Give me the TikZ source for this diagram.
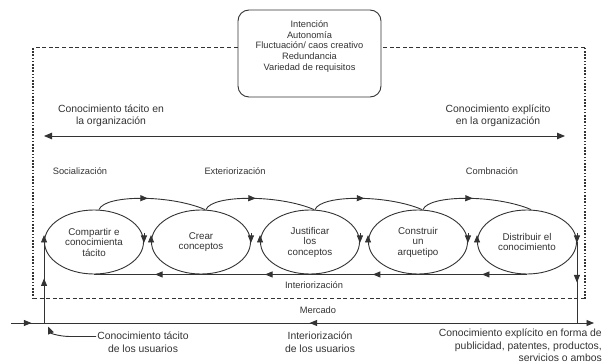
\documentclass[tikz,border=0pt]{standalone}
\usepackage{fontspec}
\setmainfont{Liberation Sans}
\usetikzlibrary{shapes.geometric,arrows.meta,decorations.markings}
\definecolor{ink}{HTML}{333333}
\begin{document}
\begin{tikzpicture}[x=1pt,y=-1pt,
  lbl/.style={font=\fontsize{9.3}{10.75}\selectfont, text=ink, align=center, inner sep=0pt},
  biglbl/.style={font=\fontsize{10.4}{12.5}\selectfont, text=ink, align=center, inner sep=0pt},
  proc/.style={ellipse, draw=ink, line width=0.9pt, minimum width=99pt, minimum height=64pt,
    inner sep=0pt, font=\fontsize{9.8}{10.5}\selectfont, text=ink, align=center},
  flow/.style={draw=ink, line width=0.9pt},
  tip/.style={-{Triangle[length=7.5pt,width=6pt]}},
  midarrow/.style={postaction={decorate,decoration={markings,
    mark=at position #1 with {\arrow{Triangle[length=7.5pt,width=6pt]}}}}},
  frameh/.style={draw=ink, line width=1pt, dash pattern=on 4pt off 2.6pt},
  framev/.style={draw=ink, line width=1.2pt, dash pattern=on 1.6pt off 1.6pt}]

\fill[white] (0,0) rectangle (605,363);
\useasboundingbox (0,0) rectangle (605,363);

% enabling conditions
\node[draw=ink, line width=0.9pt, rounded corners=11pt, minimum width=143pt,
  minimum height=87pt, inner sep=0pt] (facbox) at (309.5,53.5) {};
\node[lbl] (factxt) at (309.5,46.5)
  {Intención\\Autonomía\\Fluctuación/ caos creativo\\Redundancia\\Variedad de requisitos};

% organisation frame
\coordinate (fTL) at (33,48);
\coordinate (fBL) at (33,299);
\coordinate (fBR) at (585,299);
\coordinate (fTR) at (585,48);
\draw[frameh] (facbox.west |- fTL) -- (fTL);
\draw[framev] (fTL) -- (fBL);
\draw[frameh] (fBL) -- (fBR);
\draw[framev] (fBR) -- (fTR);
\draw[frameh] (fTR) -- (facbox.east |- fTR);

% tacit / explicit axis
\node[biglbl] (torg) at (111,116) {Conocimiento tácito en\\la organización};
\node[biglbl] (eorg) at (498,116) {Conocimiento explícito\\en la organización};
\coordinate (oL) at (44,136);
\coordinate (oR) at (565,136);
\draw[flow, {Triangle[length=8pt,width=6.5pt]}-{Triangle[length=8pt,width=6.5pt]}] (oL) -- (oR);

% phases
\node[lbl] (soc) at (80,171) {Socialización};
\node[lbl] (ext) at (235,171) {Exteriorización};
\node[lbl] (comb) at (492,171) {Combnación};

% process steps
\node[proc] (e1) at (94,242) {Compartir e\\conocimienta\\tácito};
\node[proc] (e2) at (201,242) {Crear\\conceptos};
\node[proc] (e3) at (310,242) {Justificar\\los\\conceptos};
\node[proc] (e4) at (418,242) {Construir\\un\\arquetipo};
\node[proc] (e5) at (527,242) {Distribuir el\\conocimiento};

% forward arcs between steps
\foreach \a/\b in {e1/e2,e2/e3,e3/e4,e4/e5}
  \draw[flow, midarrow=0.47] ([xshift=5pt]\a.north) .. controls +(6,-15) and +(-35,-15) .. ([xshift=4pt]\b.north);

% clockwise cues on each step
\foreach \e in {e1,e2,e3,e4,e5} {
  \draw[flow, tip] ([yshift=-3pt]\e.west) -- ([yshift=7pt]\e.west);
  \draw[flow, tip] ([yshift=9pt]\e.east) -- ([yshift=-1pt]\e.east);
}

% interiorisation return line
\draw[flow, postaction={decorate,decoration={markings,
    mark=at position 0.104 with {\arrow{Triangle[length=7.5pt,width=6pt]}},
    mark=at position 0.356 with {\arrow{Triangle[length=7.5pt,width=6pt]}},
    mark=at position 0.605 with {\arrow{Triangle[length=7.5pt,width=6pt]}},
    mark=at position 0.859 with {\arrow{Triangle[length=7.5pt,width=6pt]}}}}]
  (e5.south) -- (e1.south);
\node[lbl] (intr) at (314,285) {Interiorización};

% market line
\coordinate (mL) at (11,323);
\coordinate (mR) at (594,323);
\draw[flow, tip, postaction={decorate,decoration={markings,
    mark=at position 0.035 with {\arrow{Triangle[length=7.5pt,width=6pt]}},
    mark=at position 0.525 with {\arrow{Triangle[reversed,length=7.5pt,width=6pt]}}}}]
  (mL) -- (mR);
\draw[flow, midarrow=0.55] (e1.west |- mL) -- (e1.west);
\draw[flow, midarrow=0.5] (e5.east) -- (e5.east |- mR);
\node[lbl] (merc) at (318,310) {Mercado};

% market labels
\node[biglbl] (tus) at (143,342) {Conocimiento tácito\\de los usuarios};
\node[biglbl] (ius) at (320,342) {Interiorización\\de los usuarios};
\node[biglbl, align=right, anchor=north east] (eus) at (602,329)
  {Conocimiento explícito en forma de\\publicidad, patentes, productos,\\servicios o ambos};
\coordinate (ju) at (48,326.5);
\draw[flow, tip] ([xshift=-1pt,yshift=5.5pt]tus.west) -- ++(-26,0)
  .. controls +(-10,0) and +(3,7) .. (ju);
\end{tikzpicture}
\end{document}
